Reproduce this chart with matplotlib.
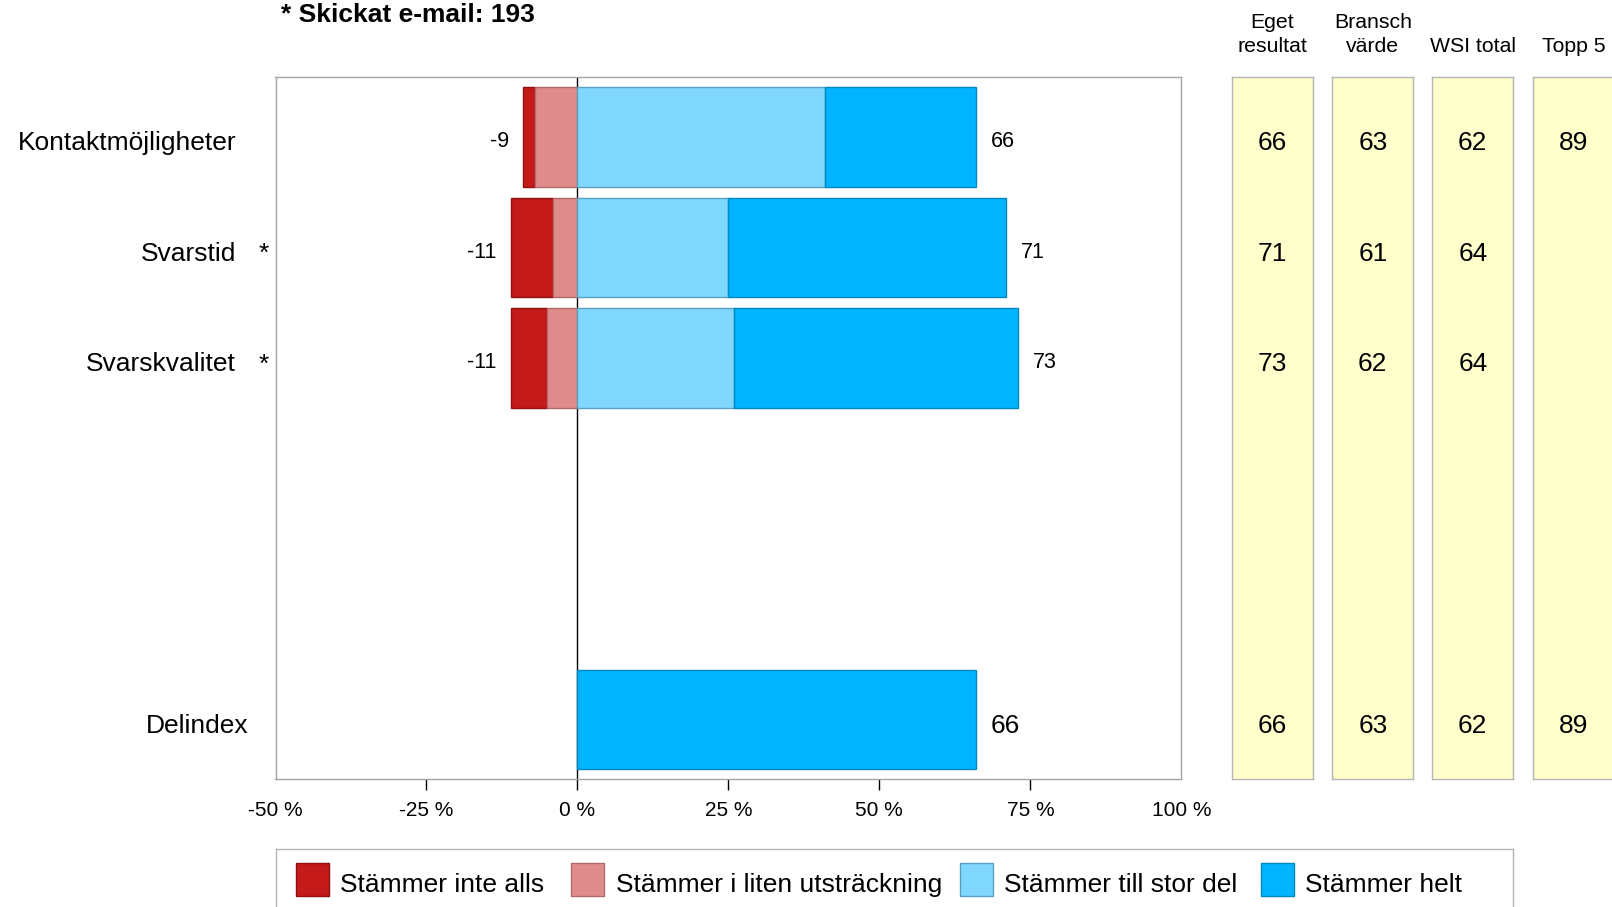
import matplotlib
matplotlib.use("Agg")
import matplotlib.pyplot as plt
from matplotlib.patches import Rectangle
import numpy as np

# ---------------- data ----------------
title = "* Skickat e-mail: 193"
categories = ["Kontaktmöjligheter", "Svarstid", "Svarskvalitet"]
category_marks = ["", "*", "*"]
stammer_inte_alls = [2, 7, 6]
stammer_i_liten = [7, 4, 5]
stammer_till_stor_del = [41, 25, 26]
stammer_helt = [25, 46, 47]
negative_totals = [-9, -11, -11]
positive_totals = [66, 71, 73]
delindex_label = "Delindex"
delindex_value = 66
series_labels = ["Stämmer inte alls", "Stämmer i liten utsträckning",
                 "Stämmer till stor del", "Stämmer helt"]
column_headers = ["Eget\nresultat", "Bransch\nvärde", "WSI total", "Topp 5"]
eget_resultat = [66, 71, 73, 66]
bransch_varde = [63, 61, 62, 63]
wsi_total = [62, 64, 64, 62]
topp_5 = [89, None, None, 89]
xticks = [-50, -25, 0, 25, 50, 75, 100]
xtick_labels = ["-50 %", "-25 %", "0 %", "25 %", "50 %", "75 %", "100 %"]

# ---------------- style ----------------
W, H, DPI = 1612, 907, 100
plt.rcParams['font.family'] = ['Liberation Sans', 'DejaVu Sans']
face_colors = ['#C41A1A', '#E08B8B', '#80D8FF', '#00B4FF']
edge_colors = ['#8C1010', '#B06A6A', '#5A9EC0', '#0088C0']
spine_gray = '#A6A6A6'
yellow = '#FFFFCC'

fig = plt.figure(figsize=(W / DPI, H / DPI), dpi=DPI)


def fig_rect(l, t, r, b):
    return [l / W, 1 - b / H, (r - l) / W, (b - t) / H]


AX_TOP, AX_BOT = 77.1, 778.5
ypos = np.arange(len(categories), dtype=float)
delindex_y = 5.27
ylim = (5.804, -0.544)
bar_h = 0.9

ax = fig.add_axes(fig_rect(275.5, AX_TOP, 1181.3, AX_BOT))
ax.set_xlim(-50, 100)
ax.set_ylim(*ylim)

a = np.array(stammer_inte_alls, float)
b = np.array(stammer_i_liten, float)
c = np.array(stammer_till_stor_del, float)
d = np.array(stammer_helt, float)
segments = [(a, -(a + b)), (b, -b), (c, np.zeros_like(c)), (d, c)]
for (w, left), fc, ec in zip(segments, face_colors, edge_colors):
    ax.barh(ypos, w, left=left, height=bar_h, color=fc, edgecolor=ec,
            linewidth=1, zorder=2)
ax.barh([delindex_y], [delindex_value], left=0, height=bar_h,
        color=face_colors[3], edgecolor=edge_colors[3], linewidth=1, zorder=2)

ax.axvline(0, color='black', lw=1, zorder=1.5)

small_off = -7.3
big_off = -9.5
small_fs = 15.5
for i in range(len(categories)):
    ax.annotate(str(negative_totals[i]), xy=(-(a[i] + b[i]), ypos[i]),
                xytext=(-10.4, small_off), textcoords='offset points',
                ha='right', va='baseline', fontsize=small_fs)
    ax.annotate(str(positive_totals[i]), xy=(c[i] + d[i], ypos[i]),
                xytext=(10.4, small_off), textcoords='offset points',
                ha='left', va='baseline', fontsize=small_fs)
    ax.annotate(categories[i], xy=(236 / W, ypos[i]),
                xycoords=('figure fraction', 'data'),
                xytext=(0, big_off), textcoords='offset points',
                ha='right', va='baseline', fontsize=19)
    if category_marks[i]:
        ax.annotate(category_marks[i], xy=(263.5 / W, ypos[i]),
                    xycoords=('figure fraction', 'data'),
                    xytext=(0, big_off), textcoords='offset points',
                    ha='center', va='baseline', fontsize=19)
ax.annotate(str(delindex_value), xy=(delindex_value, delindex_y),
            xytext=(10.4, big_off), textcoords='offset points',
            ha='left', va='baseline', fontsize=19)
ax.annotate(delindex_label, xy=(249 / W, delindex_y),
            xycoords=('figure fraction', 'data'),
            xytext=(0, big_off), textcoords='offset points',
            ha='right', va='baseline', fontsize=19)

ax.set_xticks(xticks)
ax.set_xticklabels(xtick_labels)
ax.set_yticks([])
ax.tick_params(axis='x', length=7.9, width=1, color='black', pad=8.5,
               labelsize=15, direction='out')
xt = ax.xaxis.get_major_ticks()
for t in (xt[0], xt[-1]):
    t.tick1line.set_visible(False)
for s in ax.spines.values():
    s.set_color(spine_gray)
    s.set_linewidth(1)

# ---------------- side columns ----------------
col_values = [eget_resultat, bransch_varde, wsi_total, topp_5]
col_lefts = [1231.5, 1332.3, 1432.3, 1533.0]
col_w = 81
row_positions = list(ypos) + [delindex_y]
for left, header, vals in zip(col_lefts, column_headers, col_values):
    cax = fig.add_axes(fig_rect(left, AX_TOP, left + col_w, AX_BOT))
    cax.set_xlim(0, 1)
    cax.set_ylim(*ylim)
    cax.set_facecolor(yellow)
    cax.set_xticks([])
    cax.set_yticks([])
    for s in cax.spines.values():
        s.set_color('#B4B4B4')
        s.set_linewidth(1)
    for yv, v in zip(row_positions, vals):
        if v is None:
            continue
        cax.annotate(str(v), xy=(0.5, yv), xytext=(0, big_off),
                     textcoords='offset points', ha='center', va='baseline',
                     fontsize=19)
    cax.annotate(header, xy=(0.5, 1), xycoords='axes fraction',
                 xytext=(0, 15.2), textcoords='offset points',
                 ha='center', va='bottom', multialignment='center',
                 fontsize=15.3, linespacing=1.3, annotation_clip=False)

# ---------------- title ----------------
fig.text(281 / W, 1 - 21.7 / H, title, fontsize=19, fontweight='bold',
         va='baseline', ha='left')

# ---------------- legend ----------------
LEG_L, LEG_R, LEG_T, LEG_B = 275.5, 1513.3, 849.3, 960
lax = fig.add_axes(fig_rect(LEG_L, LEG_T, LEG_R, LEG_B))
lax.set_xlim(LEG_L, LEG_R)
lax.set_ylim(LEG_B, LEG_T)
lax.set_xticks([])
lax.set_yticks([])
for s in lax.spines.values():
    s.set_color('#B4B4B4')
    s.set_linewidth(1)
patch_x = [296, 571.4, 960, 1261]
text_x = [340, 615.6, 1004, 1305]
for px, tx, lab, fc, ec in zip(patch_x, text_x, series_labels, face_colors, edge_colors):
    lax.add_patch(Rectangle((px, 863), 33, 33, facecolor=fc, edgecolor=ec, lw=1))
    lax.text(tx, 891.7, lab, fontsize=19, va='baseline', ha='left')

fig.savefig("out.png", dpi=DPI)
